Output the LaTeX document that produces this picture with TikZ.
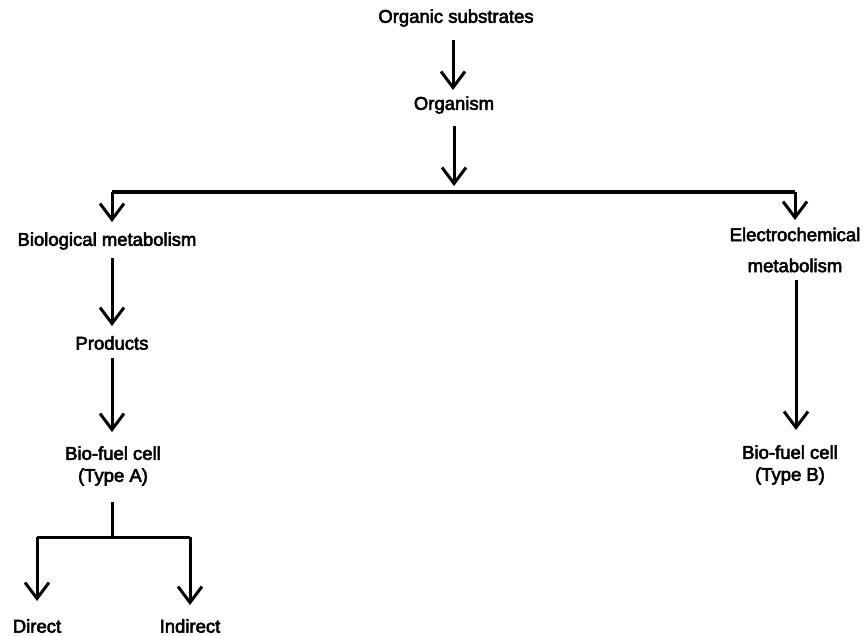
\documentclass[tikz,border=0pt]{standalone}
\usepackage{fontspec}
\setmainfont{Liberation Sans}[RawFeature={embolden=3}]
\usetikzlibrary{arrows.meta}
\begin{document}
\begin{tikzpicture}[x=1pt,y=-1pt,
  lbl/.style={inner sep=0pt,align=center,font=\fontsize{18.5}{22}\selectfont},
  wire/.style={line width=3pt},
  arr/.style={line width=3pt,-{Straight Barb[length=16pt,width=24pt,line width=3pt]}}]
\useasboundingbox (0,0) rectangle (866,635);

% labels
\node[lbl] (sub) at (456,18) {Organic substrates};
\node[lbl] (org) at (454,105) {Organism};
\node[lbl] (bio) at (107,241) {Biological metabolism};
\node[lbl] (elec) at (795,250) {Electrochemical\\[9pt]metabolism};
\node[lbl] (prod) at (112,343) {Products};
\node[lbl] (fa) at (113,466) {Bio-fuel cell\\(Type A)};
\node[lbl] (fb) at (790,465) {Bio-fuel cell\\(Type B)};
\node[lbl,anchor=south] (dir) at (37,633) {Direct};
\node[lbl,anchor=south] (ind) at (190,633) {Indirect};

% branch points
\coordinate (top) at (454,186);
\coordinate (jl) at (112,192);
\coordinate (jr) at (795,192);
\coordinate (ja) at (112,537);
\coordinate (jd) at (37,537);
\coordinate (ji) at (190,537);

% main trunk
\draw[arr] (453,40) -- (453,90);
\draw[arr] (org.south -| top) ++(0,12) -- (top);
\draw[wire,line width=3.5pt] (jl) -- (jr);
\draw[arr] (jl) -- (112,222);
\draw[arr] (jr) -- (795,220);

% left branch
\draw[arr] (112,258) -- (112,326);
\draw[arr] (112,358) -- (112,432);
\draw[wire] (112,502) -- (ja);
\draw[wire] (jd) -- (ji);
\draw[arr] (jd) -- (37,601);
\draw[arr] (ji) -- (190,605);

% right branch
\draw[arr] (796,280) -- (796,430);
\end{tikzpicture}
\end{document}
